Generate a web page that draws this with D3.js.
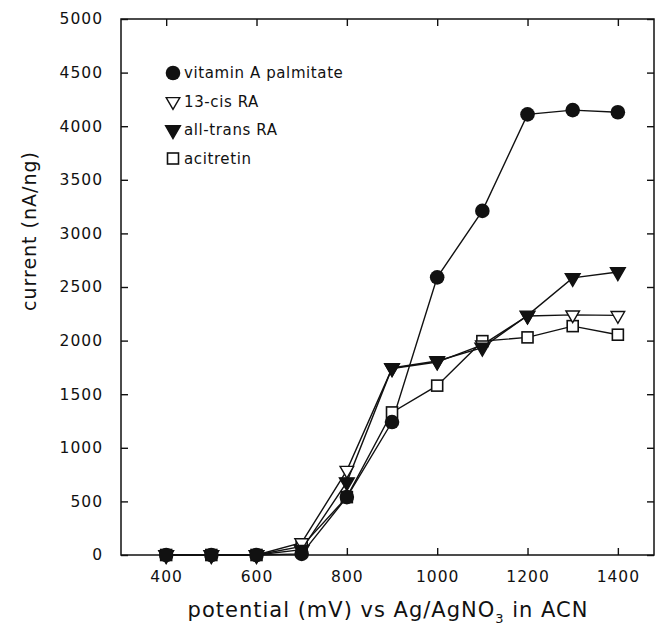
<!DOCTYPE html>
<html>
<head>
<meta charset="utf-8">
<script src="https://cdn.jsdelivr.net/npm/d3@7"></script>
<style>
  body { margin: 0; background: #fff; }
  svg text { font-family: "DejaVu Sans", sans-serif; fill: #111; }
</style>
</head>
<body>
<div id="box1"></div>
<script>
var potential = [400, 500, 600, 700, 800, 900, 1000, 1100, 1200, 1300, 1400];
var vitaminA = [0, 0, 0, 10, 540, 1240, 2590, 3210, 4110, 4150, 4130];
var cisRA = [0, 0, 0, 115, 790, 1740, 1800, 1960, 2230, 2240, 2235];
var transRA = [0, 0, 0, 50, 680, 1745, 1810, 1935, 2235, 2585, 2640];
var acitretin = [0, 0, 0, 80, 540, 1330, 1580, 1995, 2030, 2135, 2055];
var xTicks = [400, 600, 800, 1000, 1200, 1400];
var yTicks = [0, 500, 1000, 1500, 2000, 2500, 3000, 3500, 4000, 4500, 5000];
var legendNames = ["vitamin A palmitate", "13-cis RA", "all-trans RA", "acitretin"];

document.addEventListener("DOMContentLoaded", function(e) {
    chart1();
});

function marker(g, kind, x, y) {
    if (kind == "circle") {
        g.append("circle").attr("cx", x).attr("cy", y).attr("r", 7.3)
            .attr("fill", "#111");
    } else if (kind == "square") {
        g.append("rect").attr("x", x - 5.5).attr("y", y - 5.5)
            .attr("width", 11).attr("height", 11)
            .attr("fill", "#fff").attr("stroke", "#111").attr("stroke-width", 1.6);
    } else {
        var sym = d3.symbol().type(d3.symbolTriangle).size(kind == "tri" ? 95 : 80);
        g.append("path").attr("d", sym())
            .attr("transform", "translate(" + x + "," + y + ") rotate(180)")
            .attr("fill", kind == "tri" ? "#111" : "#fff")
            .attr("stroke", "#111").attr("stroke-width", 1.4);
    }
}

function chart1() {
    var width = 660, height = 642;
    var svg = d3.select("#box1").append("svg")
        .attr("width", width).attr("height", height);

    var x = d3.scaleLinear().domain([300, 1480]).range([121, 654]);
    var y = d3.scaleLinear().domain([0, 5000]).range([555, 19]);

    // frame
    svg.append("rect").attr("x", 121).attr("y", 19)
        .attr("width", 533).attr("height", 536)
        .attr("fill", "none").attr("stroke", "#111").attr("stroke-width", 1.5);

    var fmt = d3.format("d");
    var bottom = svg.append("g").attr("transform", "translate(0,555)")
        .call(d3.axisBottom(x).tickValues(xTicks).tickFormat(fmt).tickSizeInner(-7).tickSizeOuter(0).tickPadding(16));
    var top = svg.append("g").attr("transform", "translate(0,19)")
        .call(d3.axisTop(x).tickValues(xTicks).tickSizeInner(-7).tickSizeOuter(0).tickFormat(""));
    var left = svg.append("g").attr("transform", "translate(121,0)")
        .call(d3.axisLeft(y).tickValues(yTicks).tickFormat(fmt).tickSizeInner(-7).tickSizeOuter(0).tickPadding(18));
    var right = svg.append("g").attr("transform", "translate(654,0)")
        .call(d3.axisRight(y).tickValues(yTicks).tickSizeInner(-7).tickSizeOuter(0).tickFormat(""));

    [bottom, top, left, right].forEach(function(a) {
        a.select(".domain").remove();
        a.selectAll("line").attr("stroke", "#111").attr("stroke-width", 1.4);
        a.selectAll("text").attr("font-size", 15.5).style("letter-spacing", "1px")
            .attr("fill", "#111");
    });
    bottom.selectAll("text").attr("dy", "0.71em");

    // series
    var series = [
        {vals: acitretin, kind: "square"},
        {vals: cisRA, kind: "open"},
        {vals: transRA, kind: "tri"},
        {vals: vitaminA, kind: "circle"}
    ];
    var line = d3.line().x(function(d) { return x(d[0]); }).y(function(d) { return y(d[1]); });
    series.forEach(function(s) {
        var pts = potential.map(function(p, i) { return [p, s.vals[i]]; });
        svg.append("path").attr("d", line(pts))
            .attr("fill", "none").attr("stroke", "#111").attr("stroke-width", 1.4);
    });
    series.forEach(function(s) {
        var g = svg.append("g");
        for (var i = 0; i < potential.length; i++) {
            marker(g, s.kind, x(potential[i]), y(s.vals[i]));
        }
    });

    // legend
    var kinds = ["circle", "open", "tri", "square"];
    var lg = svg.append("g");
    for (var i = 0; i < legendNames.length; i++) {
        var ly = 73 + i * 28.5;
        marker(lg, kinds[i], 173, ly);
        lg.append("text").attr("x", 184).attr("y", ly + 5)
            .attr("font-size", 15).style("letter-spacing", "0.6px")
            .text(legendNames[i]);
    }

    // axis titles
    svg.append("text")
        .attr("transform", "translate(36,231) rotate(-90)")
        .attr("text-anchor", "middle").attr("font-size", 19)
        .style("letter-spacing", "1px")
        .text("current (nA/ng)");

    var xt = svg.append("text").attr("x", 388).attr("y", 617)
        .attr("text-anchor", "middle").attr("font-size", 21)
        .style("letter-spacing", "1px");
    xt.append("tspan").text("potential (mV) vs Ag/AgNO");
    xt.append("tspan").attr("font-size", 13).attr("dy", 6).text("3");
    xt.append("tspan").attr("dy", -6).text(" in ACN");
}
</script>
</body>
</html>
